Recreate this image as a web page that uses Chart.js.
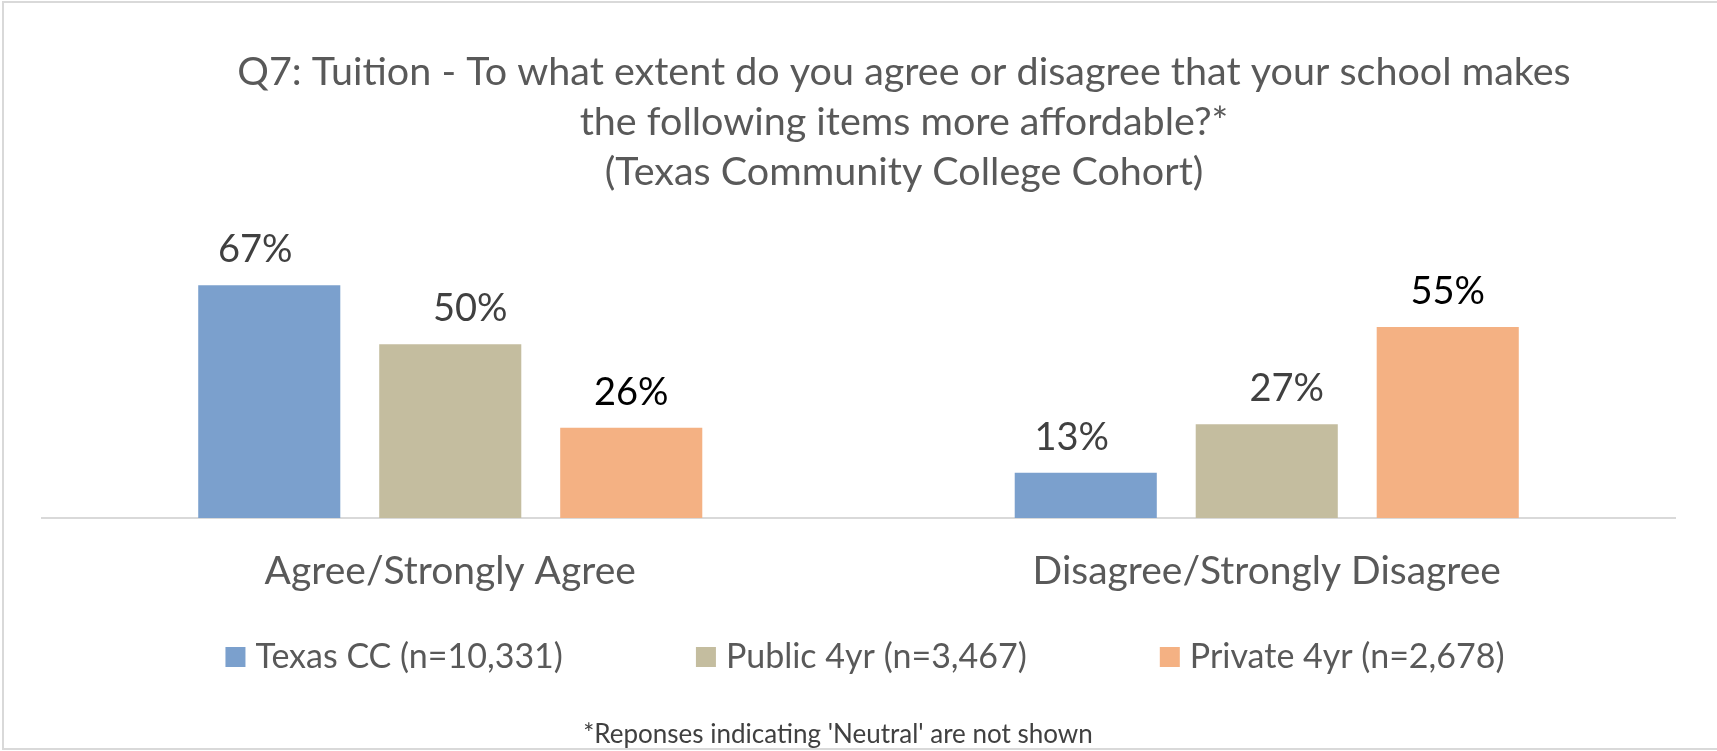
<!DOCTYPE html>
<html>
<head>
<meta charset="utf-8">
<title>Q7: Tuition</title>
<script src="https://cdn.jsdelivr.net/npm/chart.js@4.4.1/dist/chart.umd.min.js"></script>
<style>
    html, body { margin: 0; padding: 0; background: #fff; }
    #wrap { position: relative; width: 1717px; height: 751px; }
</style>
</head>
<body>
<div id="wrap"><canvas id="tuitionChart" width="1717" height="751"></canvas></div>
<script>
const categories = ['Agree/Strongly Agree', 'Disagree/Strongly Disagree'];
const seriesNames = ['Texas CC (n=10,331)', 'Public 4yr (n=3,467)', 'Private 4yr (n=2,678)'];
const texasCC = [67, 13];
const public4yr = [50, 27];
const private4yr = [26, 55];
const titleLines = [
    'Q7: Tuition - To what extent do you agree or disagree that your school makes',
    'the following items more affordable?*',
    '(Texas Community College Cohort)'
];
const footnote = "*Reponses indicating 'Neutral' are not shown";

const FONT = "Lato, 'Open Sans', sans-serif";
const GREY = '#595959';

// title, value labels, legend, footnote and frame are painted straight onto the canvas
const decorations = {
    id: 'decorations',
    afterDatasetsDraw(chart) {
        const ctx = chart.ctx;
        ctx.save();

        // value labels above each bar
        ctx.font = `38px ${FONT}`;
        ctx.textAlign = 'center';
        ctx.textBaseline = 'alphabetic';
        chart.data.datasets.forEach((ds, di) => {
            chart.getDatasetMeta(di).data.forEach((bar, i) => {
                ctx.fillStyle = ds.labelColor[i];
                ctx.fillText(ds.data[i] + '%', bar.x + ds.labelShift, bar.y - 23);
            });
        });
        ctx.restore();
    },
    afterDraw(chart) {
        const ctx = chart.ctx;
        const { width, height } = chart;
        ctx.save();

        // outer frame (runs off the right edge)
        ctx.strokeStyle = '#d9d9d9';
        ctx.lineWidth = 2;
        ctx.strokeRect(3, 2, width + 10, height - 4);

        // title
        ctx.fillStyle = GREY;
        ctx.font = `39.5px ${FONT}`;
        ctx.textAlign = 'center';
        ctx.textBaseline = 'alphabetic';
        titleLines.forEach((line, i) => ctx.fillText(line, 904, 85 + i * 50));

        // legend
        ctx.font = `34px ${FONT}`;
        ctx.textAlign = 'left';
        const box = 20, gapText = 10, gapItem = 133;
        const items = chart.data.datasets.map(ds => ({
            text: ds.label,
            color: ds.backgroundColor,
            w: box + gapText + ctx.measureText(ds.label).width
        }));
        const total = items.reduce((s, it) => s + it.w, 0) + gapItem * (items.length - 1);
        let x = 865 - total / 2;
        items.forEach(it => {
            ctx.fillStyle = it.color;
            ctx.fillRect(x, 647, box, box);
            ctx.fillStyle = GREY;
            ctx.fillText(it.text, x + box + gapText, 668);
            x += it.w + gapItem;
        });

        // footnote
        ctx.fillStyle = '#404040';
        ctx.font = `26px ${FONT}`;
        ctx.textAlign = 'center';
        ctx.fillText(footnote, 838, 743);

        ctx.restore();
    }
};

new Chart(document.getElementById('tuitionChart'), {
    type: 'bar',
    data: {
        labels: categories,
        datasets: [
            {
                label: seriesNames[0],
                data: texasCC,
                backgroundColor: '#7ba0cd',
                labelColor: ['#404040', '#404040'],
                labelShift: -14
            },
            {
                label: seriesNames[1],
                data: public4yr,
                backgroundColor: '#c4bd9f',
                labelColor: ['#404040', '#404040'],
                labelShift: 20
            },
            {
                label: seriesNames[2],
                data: private4yr,
                backgroundColor: '#f4b183',
                labelColor: ['#000000', '#000000'],
                labelShift: 0
            }
        ]
    },
    options: {
        responsive: false,
        animation: false,
        layout: {
            padding: { top: 240, left: 42, right: 42, bottom: 0 }
        },
        categoryPercentage: 0.665,
        barPercentage: 0.785,
        plugins: {
            legend: { display: false },
            title: { display: false },
            tooltip: { enabled: false }
        },
        scales: {
            y: {
                display: false,
                min: 0,
                max: 80
            },
            x: {
                grid: { display: false, drawTicks: false },
                border: { display: true, color: '#d9d9d9', width: 2 },
                ticks: {
                    color: GREY,
                    padding: 30,
                    font: { family: FONT, size: 39 }
                },
                afterFit(scale) {
                    // keep the plot floor at a fixed height regardless of label size
                    scale.height = 233;
                }
            }
        }
    },
    plugins: [decorations]
});
</script>
</body>
</html>
